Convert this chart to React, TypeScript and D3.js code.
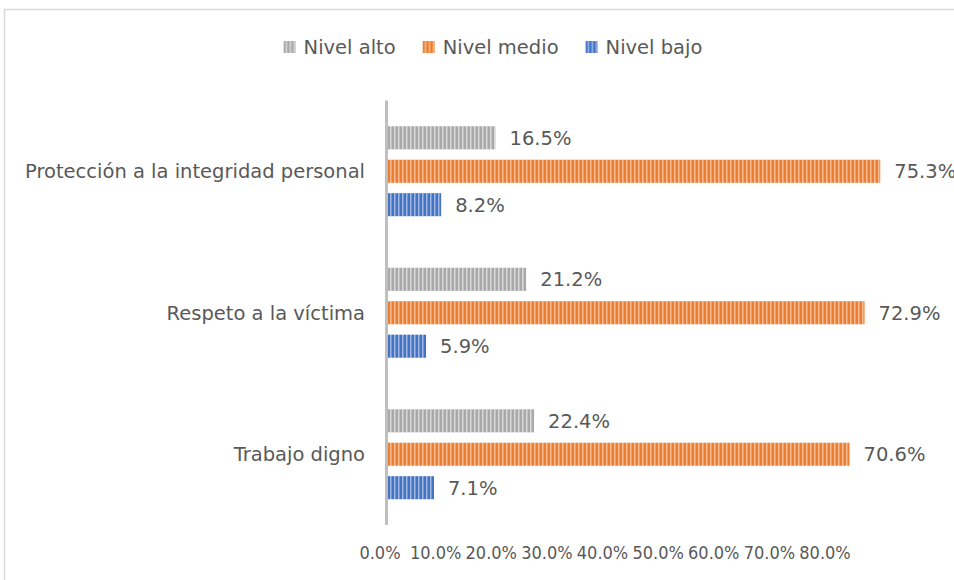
import React, { useEffect, useRef } from "react";
import * as d3 from "d3";

const categories = ["Protección a la integridad personal", "Respeto a la víctima", "Trabajo digno"];
const seriesNames = ["Nivel alto", "Nivel medio", "Nivel bajo"];
const nivelAlto = [16.5, 21.2, 22.4];
const nivelMedio = [75.3, 72.9, 70.6];
const nivelBajo = [8.2, 5.9, 7.1];
const tickValues = [0, 10, 20, 30, 40, 50, 60, 70, 80];

const W = 954;
const H = 580;
const FONT = "'DejaVu Sans', sans-serif";
const TICK_FONT = "'DejaVu Sans Condensed', 'Liberation Sans', sans-serif";
const TEXT = "#595959";
const FS = 19.5;

const colors = [
  { base: "#a9a9a9", light: "#d9d9d9" },
  { base: "#ed7d31", light: "#f7bd94" },
  { base: "#4472c4", light: "#a2b9e2" },
];

export default function App() {
  const ref = useRef<SVGSVGElement | null>(null);

  useEffect(() => {
    const svg = d3.select(ref.current);
    svg.selectAll("*").remove();

    const defs = svg.append("defs");
    colors.forEach((c, i) => {
      const p = defs
        .append("pattern")
        .attr("id", `pat${i}`)
        .attr("patternUnits", "userSpaceOnUse")
        .attr("width", 4)
        .attr("height", 4);
      p.append("rect").attr("width", 4).attr("height", 4).attr("fill", c.base);
      p.append("rect").attr("x", 2).attr("width", 1.5).attr("height", 4).attr("fill", c.light);
    });

    // frame
    svg
      .append("rect")
      .attr("x", 4.5)
      .attr("y", 9.5)
      .attr("width", W + 20)
      .attr("height", H + 20)
      .attr("fill", "white")
      .attr("stroke", "#d9d9d9")
      .attr("stroke-width", 1.5);

    const data = categories.map((c, i) => ({
      category: c,
      values: [nivelAlto[i], nivelMedio[i], nivelBajo[i]],
    }));

    const x = d3.scaleLinear().domain([0, 80]).range([387.5, 911]);
    const xLabel = d3.scaleLinear().domain([0, 80]).range([380, 825]);
    const y0 = d3.scaleBand().domain(categories).range([100.5, 525]).padding(0);
    const y1 = d3
      .scaleBand()
      .domain(seriesNames)
      .range([0, y0.bandwidth()])
      .paddingInner(0.31)
      .paddingOuter(0.77);

    const g = svg.append("g");
    data.forEach((d) => {
      const gy = y0(d.category)!;
      d.values.forEach((v, si) => {
        const by = gy + y1(seriesNames[si])!;
        g.append("rect")
          .attr("x", x(0))
          .attr("y", by)
          .attr("width", x(v) - x(0))
          .attr("height", y1.bandwidth())
          .attr("fill", `url(#pat${si})`);
        g.append("text")
          .attr("x", x(v) + 14)
          .attr("y", by + y1.bandwidth() / 2)
          .attr("dy", "0.35em")
          .attr("font-family", FONT)
          .attr("font-size", FS)
          .attr("fill", TEXT)
          .text(`${v.toFixed(1)}%`);
      });
      g.append("text")
        .attr("x", 365)
        .attr("y", gy + y0.bandwidth() / 2)
        .attr("dy", "0.35em")
        .attr("text-anchor", "end")
        .attr("font-family", FONT)
        .attr("font-size", FS)
        .attr("fill", TEXT)
        .text(d.category);
    });

    // axis line
    svg
      .append("line")
      .attr("x1", 386.5)
      .attr("x2", 386.5)
      .attr("y1", y0.range()[0])
      .attr("y2", y0.range()[1])
      .attr("stroke", "#bfbfbf")
      .attr("stroke-width", 3);

    // tick labels
    svg
      .append("g")
      .selectAll("text")
      .data(tickValues)
      .join("text")
      .attr("x", (d) => xLabel(d))
      .attr("y", 553)
      .attr("dy", "0.35em")
      .attr("text-anchor", "middle")
      .attr("font-family", TICK_FONT)
      .attr("font-size", 18)
      .attr("fill", TEXT)
      .text((d) => `${d.toFixed(1)}%`);

    // legend
    const lg = svg.append("g");
    const items = lg.selectAll("g").data(seriesNames).join("g");
    items
      .append("rect")
      .attr("width", 12)
      .attr("height", 12)
      .attr("y", -6)
      .attr("fill", (_, i) => `url(#pat${i})`);
    items
      .append("text")
      .attr("x", 20)
      .attr("dy", "0.35em")
      .attr("font-family", FONT)
      .attr("font-size", FS)
      .attr("fill", TEXT)
      .text((d) => d);
    let offset = 0;
    const widths: number[] = [];
    items.each(function () {
      const t = d3.select(this).select("text").node() as SVGTextElement;
      widths.push(20 + t.getComputedTextLength());
    });
    const gap = 27;
    const total = d3.sum(widths) + gap * (widths.length - 1);
    const startX = 493 - total / 2;
    items.attr("transform", (_, i) => {
      const tx = startX + offset;
      offset += widths[i] + gap;
      return `translate(${tx},47)`;
    });
  }, []);

  return (
    <svg
      ref={ref}
      width={W}
      height={H}
      style={{ position: "absolute", left: 0, top: 0, background: "white" }}
    />
  );
}
